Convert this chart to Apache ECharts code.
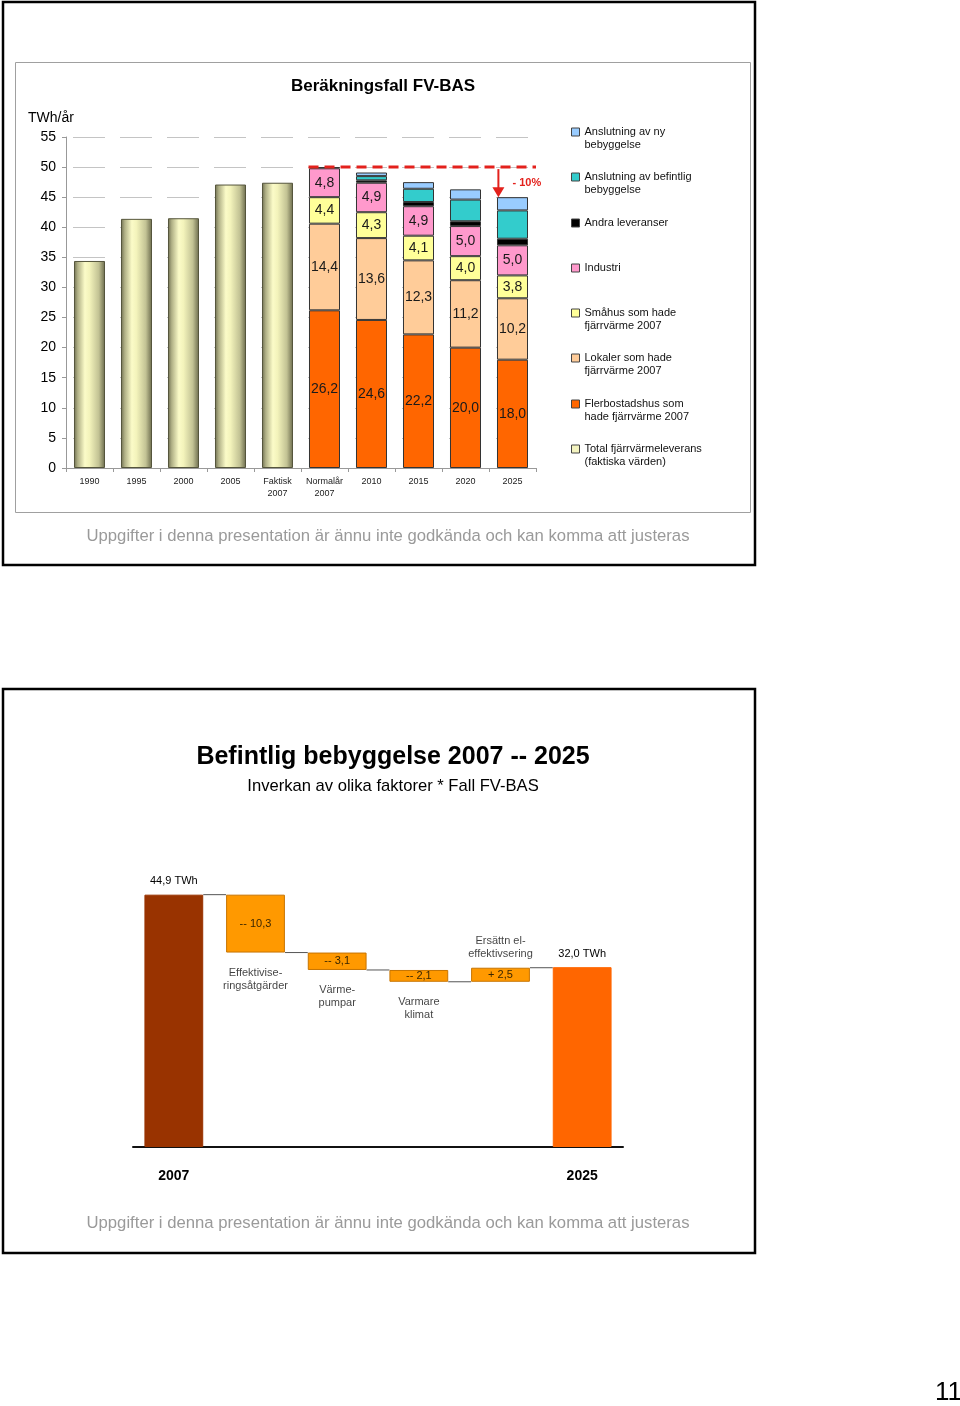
<!DOCTYPE html>
<html><head><meta charset="utf-8">
<script src="https://cdn.jsdelivr.net/npm/echarts/dist/echarts.min.js"></script>
<style>html,body{margin:0;padding:0;background:#fff}#c{width:960px;height:1406px}</style>
</head><body><div id="c"></div><script>
// ---------- Chart 1 data ----------
const categories = ['1990','1995','2000','2005','Faktisk\n2007','Normalår\n2007','2010','2015','2020','2025'];
const totalActual  = [34.4, 41.4, 41.5, 47.1, 47.4, null, null, null, null, null];
const flerbostad   = [null, null, null, null, null, 26.2, 24.6, 22.2, 20.0, 18.0];
const lokaler      = [null, null, null, null, null, 14.4, 13.6, 12.3, 11.2, 10.2];
const smahus       = [null, null, null, null, null, 4.4, 4.3, 4.1, 4.0, 3.8];
const industri     = [null, null, null, null, null, 4.8, 4.9, 4.9, 5.0, 5.0];
const andra        = [null, null, null, null, null, 0.2, 0.4, 0.7, 0.8, 1.1];
const befintlig    = [null, null, null, null, null, null, 0.7, 2.2, 3.6, 4.7];
const nyBebyggelse = [null, null, null, null, null, null, 0.6, 1.1, 1.7, 2.2];
const yTicks = [0,5,10,15,20,25,30,35,40,45,50,55];

// ---------- Chart 2 data ----------
const wfCats   = ['2007','Effektiviseringsåtgärder','Värmepumpar','Varmare klimat','Ersättn el-effektivsering','2025'];
const wfValues = [44.9, -10.3, -3.1, -2.1, 2.5, 32.0];
const wfNames  = ['', 'Effektivise-\nringsåtgärder', 'Värme-\npumpar', 'Varmare\nklimat', 'Ersättn el-\neffektivsering', ''];

const FONT = 'Liberation Sans, Arial, sans-serif';
const fmt = v => v.toFixed(1).replace('.', ',');
const dash = a => a.map(v => v == null ? '-' : v);

// stack totals for the -10% marker
const stackArrs = [flerbostad, lokaler, smahus, industri, andra, befintlig, nyBebyggelse];
const colTotal = i => stackArrs.reduce((s, a) => s + (a[i] || 0), 0);
const normTotal = colTotal(5), total2025 = colTotal(9);
const pct = Math.round((total2025 / normTotal - 1) * 100);

// waterfall geometry from values
const wfBase = [], wfHeight = [], wfLevels = [];
let run = 0;
wfValues.forEach((v, i) => {
  if (i === 0 || i === wfValues.length - 1) { wfBase.push(0); wfHeight.push(v); run = v; }
  else { const s = run, e = run + v; wfBase.push(Math.min(s, e)); wfHeight.push(Math.abs(v)); run = e; }
  wfLevels.push(run);
});

const grad = new echarts.graphic.LinearGradient(0, 0, 1, 0, [
  {offset: 0, color: '#6e6e50'}, {offset: 0.12, color: '#b0b086'},
  {offset: 0.35, color: '#fbfbc8'}, {offset: 0.5, color: '#f3f3bb'},
  {offset: 0.8, color: '#c2c294'}, {offset: 1, color: '#6a6a4c'}
]);

const segLabel = {show: true, position: 'inside', fontSize: 14, color: '#1a1a1a', fontFamily: FONT, formatter: p => fmt(p.value)};
const segStyle = c => ({color: c, borderColor: '#333', borderWidth: 1});

const seriesDefs = [
  {name: 'Total', data: totalActual, itemStyle: {color: grad, borderColor: '#55553c', borderWidth: 1}},
  {name: 'Fler', data: flerbostad, itemStyle: segStyle('#FF6600'), label: segLabel},
  {name: 'Lokaler', data: lokaler, itemStyle: segStyle('#FFCC99'), label: segLabel},
  {name: 'Smahus', data: smahus, itemStyle: segStyle('#FFFF99'), label: segLabel},
  {name: 'Industri', data: industri, itemStyle: segStyle('#FF99CC'), label: segLabel},
  {name: 'Andra', data: andra, itemStyle: segStyle('#000000')},
  {name: 'Befintlig', data: befintlig, itemStyle: segStyle('#33CCCC')},
  {name: 'Ny', data: nyBebyggelse, itemStyle: segStyle('#99CCFF')}
];

const legendDefs = [
  {name: 'Ny', text: 'Anslutning av ny\nbebyggelse', c: 132, two: true, color: '#99CCFF'},
  {name: 'Befintlig', text: 'Anslutning av befintlig\nbebyggelse', c: 177, two: true, color: '#33CCCC'},
  {name: 'Andra', text: 'Andra leveranser', c: 223, two: false, color: '#000'},
  {name: 'Industri', text: 'Industri', c: 268, two: false, color: '#FF99CC'},
  {name: 'Smahus', text: 'Småhus som hade\nfjärrvärme 2007', c: 313, two: true, color: '#FFFF99'},
  {name: 'Lokaler', text: 'Lokaler som hade\nfjärrvärme 2007', c: 358, two: true, color: '#FFCC99'},
  {name: 'Fler', text: 'Flerbostadshus som\nhade fjärrvärme 2007', c: 404, two: true, color: '#FF6600'},
  {name: 'Total', text: 'Total fjärrvärmeleverans\n(faktiska värden)', c: 449, two: true, color: '#f4f4c0'}
];

// two-line entries get a blank leading line so that the icon sits on the first text line
const legends = legendDefs.map(d => ({
  orient: 'vertical', left: 571, top: d.two ? d.c - 19.5 : d.c - 6.5, padding: 0,
  itemWidth: 8, itemHeight: 8, itemGap: 0, icon: 'rect', selectedMode: false,
  data: [{name: d.name, itemStyle: {color: d.color, borderColor: '#444', borderWidth: 1}}],
  formatter: () => d.two ? ' \n' + d.text : d.text,
  textStyle: {fontSize: 11, lineHeight: 13, color: '#111', fontFamily: FONT}
}));

const series = seriesDefs.map(s => ({
  type: 'bar', name: s.name, stack: 'a', xAxisIndex: 0, yAxisIndex: 0,
  barWidth: '66%', data: dash(s.data), itemStyle: s.itemStyle, label: s.label, silent: true
}));

// -10% marker
series.push({
  type: 'custom', xAxisIndex: 0, yAxisIndex: 0, clip: false, silent: true, z: 10,
  data: [[5, normTotal, 9, total2025]],
  renderItem: (params, api) => {
    const band = api.size([1, 0])[0];
    const p0 = api.coord([api.value(0), api.value(1)]);
    const p9 = api.coord([api.value(2), api.value(1)]);
    const p9b = api.coord([api.value(2), api.value(3)]);
    const y = p0[1];
    const ax = p9[0] - band * 0.3;
    const red = '#E3211C';
    return {type: 'group', children: [
      {type: 'line', shape: {x1: p0[0] - band * 0.34, y1: y, x2: p9[0] + band * 0.5, y2: y},
       style: {stroke: red, lineWidth: 3, lineDash: [10, 6]}},
      {type: 'line', shape: {x1: ax, y1: y + 2, x2: ax, y2: p9b[1] - 6},
       style: {stroke: red, lineWidth: 2}},
      {type: 'polygon', shape: {points: [[ax - 6, p9b[1] - 10], [ax + 6, p9b[1] - 10], [ax, p9b[1]]]},
       style: {fill: red}},
      {type: 'text', style: {text: '- ' + Math.abs(pct) + '%', x: p9[0], y: (y + p9b[1]) / 2 + 1,
       fill: red, font: 'bold 11px ' + FONT, textAlign: 'left', textVerticalAlign: 'middle'}}
    ]};
  }
});

// waterfall
const wfColors = wfValues.map((v, i) => i === 0 ? '#993300' : (i === wfValues.length - 1 ? '#FF6600' : '#FF9900'));
series.push({
  type: 'bar', stack: 'wf', xAxisIndex: 1, yAxisIndex: 1, barWidth: '72%', silent: true,
  itemStyle: {color: 'rgba(0,0,0,0)'}, data: wfBase
});
series.push({
  type: 'bar', stack: 'wf', xAxisIndex: 1, yAxisIndex: 1, barWidth: '72%', silent: true,
  data: wfHeight.map((h, i) => {
    const end = i === 0 || i === wfValues.length - 1;
    return {
      value: h,
      itemStyle: {color: wfColors[i], borderColor: end ? wfColors[i] : '#C77400', borderWidth: 1},
      label: {show: true, position: end ? 'top' : 'inside', distance: 8,
        fontSize: 11, color: end ? '#000' : '#3a2600', fontFamily: FONT,
        formatter: end ? fmt(wfValues[i]) + ' TWh' : (wfValues[i] < 0 ? '-- ' : '+ ') + fmt(Math.abs(wfValues[i]))}
    };
  })
});
series.push({
  type: 'scatter', xAxisIndex: 1, yAxisIndex: 1, symbolSize: 1, silent: true,
  itemStyle: {color: 'rgba(0,0,0,0)'},
  data: wfValues.map((v, i) => {
    if (!wfNames[i]) return null;
    const up = v > 0;
    return {value: [i, up ? wfBase[i] + wfHeight[i] : wfBase[i]],
      label: {show: true, position: up ? 'top' : 'bottom', distance: up ? 7 : 13,
        formatter: wfNames[i], fontSize: 11, lineHeight: 13, color: '#111', fontFamily: FONT}};
  }).filter(d => d)
});
series.push({
  type: 'custom', xAxisIndex: 1, yAxisIndex: 1, silent: true, clip: false,
  data: wfLevels.slice(0, -1).map((l, i) => [i, l]),
  renderItem: (params, api) => {
    const half = api.size([1, 0])[0] * 0.36;
    const p = api.coord([api.value(0), api.value(1)]);
    const q = api.coord([api.value(0) + 1, api.value(1)]);
    return {type: 'line', shape: {x1: p[0] + half, y1: p[1], x2: q[0] - half, y2: p[1]},
      style: {stroke: '#555', lineWidth: 1}};
  }
});

const txt = (text, x, y, font, fill, align) => ({type: 'text', silent: true,
  style: {text, x, y, font, fill: fill || '#000', textAlign: align || 'center', textVerticalAlign: 'middle'}});

const option = {
  animation: false,
  backgroundColor: '#fff',
  grid: [
    {left: 66, width: 470, top: 137, bottom: 938},
    {left: 133, width: 490, top: 866, bottom: 259}
  ],
  xAxis: [
    {type: 'category', gridIndex: 0, data: categories,
     axisLine: {lineStyle: {color: '#999'}}, axisTick: {show: true, length: 4, lineStyle: {color: '#999'}},
     axisLabel: {interval: 0, fontSize: 9, lineHeight: 12, color: '#222', margin: 8, fontFamily: FONT}},
    {type: 'category', gridIndex: 1, data: wfCats,
     axisLine: {lineStyle: {color: '#111', width: 2}}, axisTick: {show: false},
     axisLabel: {interval: 0, fontSize: 14, fontWeight: 'bold', color: '#000', margin: 22, fontFamily: FONT,
       formatter: (v, i) => (i === 0 || i === wfCats.length - 1) ? v : ''}}
  ],
  yAxis: [
    {type: 'value', gridIndex: 0, min: yTicks[0], max: yTicks[yTicks.length - 1], interval: yTicks[1] - yTicks[0],
     axisLine: {show: true, lineStyle: {color: '#999'}}, axisTick: {show: true, length: 4, lineStyle: {color: '#999'}},
     axisLabel: {fontSize: 14, color: '#000', margin: 10, fontFamily: FONT},
     splitLine: {lineStyle: {color: '#c4c4c4', type: [32, 15], dashOffset: 40}}},
    {type: 'value', gridIndex: 1, min: 0, max: 50, show: false}
  ],
  legend: legends,
  series,
  graphic: {elements: [
    {type: 'rect', silent: true, shape: {x: 3, y: 2, width: 752, height: 563}, style: {fill: 'none', stroke: '#000', lineWidth: 2.5}},
    {type: 'rect', silent: true, shape: {x: 15.5, y: 62.5, width: 735, height: 450}, style: {fill: 'none', stroke: '#a0a0a0', lineWidth: 1}},
    {type: 'rect', silent: true, shape: {x: 3, y: 689, width: 752, height: 564}, style: {fill: 'none', stroke: '#000', lineWidth: 2.5}},
    txt('Beräkningsfall FV-BAS', 383, 86, 'bold 17px ' + FONT),
    txt('TWh/år', 28, 118, '14px ' + FONT, '#000', 'left'),
    txt('Uppgifter i denna presentation är ännu inte godkända och kan komma att justeras', 388, 536, '16.7px ' + FONT, '#9a9a9a'),
    txt('Befintlig bebyggelse 2007 -- 2025', 393, 757, 'bold 25px ' + FONT),
    txt('Inverkan av olika faktorer * Fall FV-BAS', 393, 786, '16.6px ' + FONT),
    txt('Uppgifter i denna presentation är ännu inte godkända och kan komma att justeras', 388, 1223, '16.7px ' + FONT, '#9a9a9a'),
    txt('11', 962, 1393, '26px ' + FONT, '#000', 'right')
  ]}
};
echarts.init(document.getElementById('c')).setOption(option);
</script></body></html>
